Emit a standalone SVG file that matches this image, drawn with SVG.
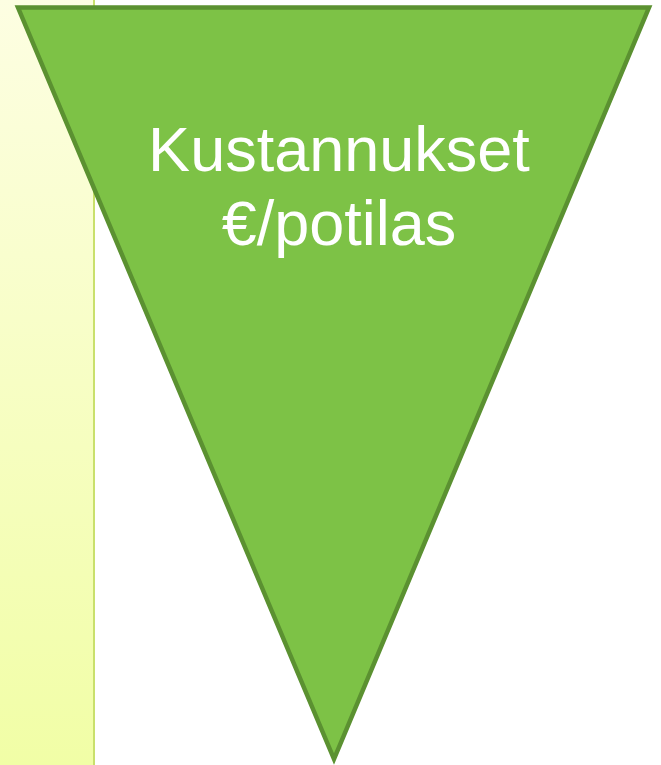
<svg xmlns="http://www.w3.org/2000/svg" width="661" height="765" viewBox="0 0 661 765">
<defs>
<linearGradient id="panel" x1="0" y1="0" x2="0" y2="1">
<stop offset="0" stop-color="#FDFEE2"/>
<stop offset="1" stop-color="#F1FEA6"/>
</linearGradient>
<style>
.lbl{font-family:"Liberation Sans",Arial,sans-serif;font-size:63px;fill:#FFFFFF;text-anchor:middle}
</style>
</defs>
<rect width="661" height="765" fill="#FFFFFF"/>
<g id="panel-left">
<rect x="0" y="0" width="94" height="765" fill="url(#panel)"/>
<line x1="94" y1="0" x2="94" y2="765" stroke="#C9E06C" stroke-width="2"/>
</g>
<g id="triangle">
<polygon points="18,7.5 649,7.5 334,759" fill="#7DC246" stroke="#5B9131" stroke-width="4.5" stroke-linejoin="miter"/>
<text class="lbl" x="339" y="171">Kustannukset</text>
<text class="lbl" x="339" y="245">€/potilas</text>
</g>
</svg>
